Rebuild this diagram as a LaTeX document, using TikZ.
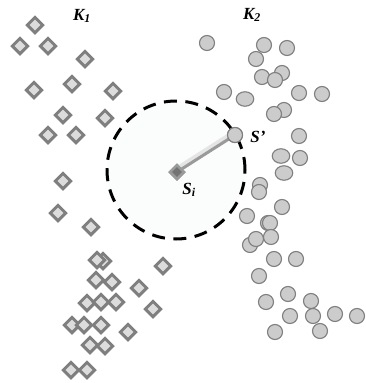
\documentclass[tikz,border=0pt]{standalone}
\usepackage{fontspec}
\setmainfont{Liberation Serif}
\usetikzlibrary{shapes.geometric}
\definecolor{rimgray}{HTML}{7F7F7F}
\definecolor{fillgray}{HTML}{DCDCDC}
\definecolor{dotfill}{HTML}{CCCCCC}
\definecolor{linkgray}{HTML}{9A9A9A}
\tikzset{
  dia/.style={diamond, aspect=1, inner sep=0pt, minimum size=16.5pt,
    draw=rimgray, line width=3pt, fill=fillgray},
  dot/.style={circle, inner sep=0pt, minimum size=15pt,
    draw=rimgray, line width=1.1pt, fill=dotfill},
  oval/.style={ellipse, inner sep=0pt, minimum width=17.5pt, minimum height=14.5pt,
    draw=rimgray, line width=1.1pt, fill=dotfill},
  lbl/.style={inner sep=0pt, font=\fontsize{17}{19}\selectfont\bfseries\itshape}
}
\begin{document}
\begin{tikzpicture}[x=1pt,y=-1pt]
\useasboundingbox (0,0) rectangle (366,383);
% neighbourhood disc
\node (nb) at (176,170) [circle, minimum size=138pt, inner sep=0pt,
  fill={rgb,255:red,251;green,252;blue,252}, draw=black, line width=3pt,
  dash pattern=on 13pt off 8.5pt] {};
% class K1: diamonds
\foreach \x/\y [count=\i] in {35/25, 20/46, 48/46, 85/59, 34/90, 72/84, 113/91,
  63/115, 105/118, 48/135, 76/135, 63/181, 58/213, 91/227, 103/261, 97/260,
  163/266, 96/280, 112/282, 139/288, 87/303, 101/302, 116/302, 153/309,
  72/325, 84/325, 101/325, 128/332, 90/345, 105/346, 71/370, 87/370}
  \node (d\i) at (\x,\y) [dia] {};
% class K2: circles
\foreach \x/\y [count=\i] in {207/43, 264/45, 287/48, 256/59, 282/73, 262/77,
  275/80, 224/92, 299/93, 322/94, 284/110, 274/114, 299/136, 300/158,
  260/185, 259/192, 282/207, 247/216, 268/223, 270/223, 250/245, 256/239,
  271/237, 274/259, 296/259, 259/276, 288/294, 266/302, 311/301, 290/316,
  313/316, 335/314, 357/316, 275/332, 320/331}
  \node (c\i) at (\x,\y) [dot] {};
\foreach \x/\y [count=\i] in {245/99, 281/156, 284/173}
  \node (e\i) at (\x,\y) [oval] {};
% query sample and its nearest neighbour, joined by a shaded link
\node (sp) at (235,135) [dot] {};
\node (si) at (177,172) [diamond, aspect=1, inner sep=0pt, minimum size=15pt,
  draw=linkgray, line width=2.5pt, fill=black!55] {};
\draw[black!10, line width=6pt] ([yshift=2.5pt]si.center) -- ([yshift=2.5pt]sp.center);
\draw[linkgray, line width=3pt] (si.center) -- (sp.center);
\node (si2) at (177,172) [diamond, aspect=1, inner sep=0pt, minimum size=15pt,
  draw=linkgray, line width=2.5pt, fill=black!55] {};
\node (sp2) at (235,135) [dot] {};
% labels
\node (k1) at (82,16) [lbl] {K\textsubscript{1}};
\node (k2) at (252,15) [lbl] {K\textsubscript{2}};
\node (spl) at (258,137) [lbl] {S'};
\node (sil) at (189,190) [lbl] {S\textsubscript{i}};
\end{tikzpicture}
\end{document}
